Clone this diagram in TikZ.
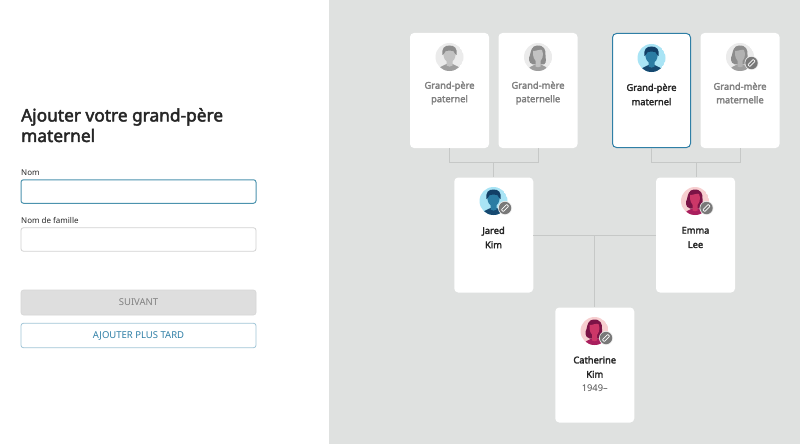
\documentclass[tikz,border=0pt]{standalone}
\usepackage{fontspec}
\setmainfont{Noto Sans}[BoldFont={Noto Sans}, BoldFeatures={FakeBold=2.6}]
\definecolor{panelgrey}{HTML}{DFE1E0}
\definecolor{linegrey}{HTML}{C6C8C7}
\definecolor{tealblue}{HTML}{2F7FA6}
\definecolor{inputblue}{HTML}{4C93AE}
\definecolor{textdark}{HTML}{262626}
\definecolor{textgrey}{HTML}{7F7F7F}
\definecolor{skyback}{HTML}{A9E4F5}
\definecolor{skyface}{HTML}{2B7CA3}
\definecolor{skyhair}{HTML}{123F66}
\definecolor{skybody}{HTML}{164970}
\definecolor{pinkback}{HTML}{F7CFD0}
\definecolor{pinkface}{HTML}{CC3768}
\definecolor{pinkhair}{HTML}{7B1346}
\definecolor{pinkbody}{HTML}{A91F5E}
\tikzset{
	card/.style={fill=white, rounded corners=4, minimum width=79, minimum height=115, inner sep=0},
	selcard/.style={card, draw=tealblue, line width=1},
	link/.style={draw=linegrey, line width=0.9},
	namedark/.style={align=center, text=textdark, font=\fontsize{9.3}{14.3}\selectfont\bfseries},
	namegrey/.style={align=center, text=textgrey, font=\fontsize{9.3}{13.5}\selectfont\bfseries},
	fieldbox/.style={fill=white, rounded corners=2.5, minimum width=235, minimum height=23.5, inner sep=0},
	fieldlabel/.style={anchor=west, inner sep=0, text=textdark, font=\fontsize{8}{10}\selectfont},
	pics/man/.style n args={4}{code={
		\begin{scope}
		\clip (0,0) circle (14);
		\fill[#1] (0,0) circle (14);
		\fill[#4] (-12,15) .. controls (-11,9) and (-6,9) .. (-3,7) -- (3,7) .. controls (6,9) and (11,9) .. (12,15) -- cycle;
		\fill[#2] (-3,8.5) -- (-3,2) -- (3,2) -- (3,8.5) .. controls (1,10) and (-1,10) .. (-3,8.5) -- cycle;
		\fill[#2] (-6.5,-8) .. controls (-6.5,2) and (-4,5) .. (0,5) .. controls (4,5) and (6.5,2) .. (6.5,-8) -- cycle;
		\fill[#3] (-7,-2) .. controls (-8,-9) and (-5,-11.5) .. (0,-11.5) .. controls (5,-11.5) and (8,-9) .. (7,-2) -- (5.8,-3) .. controls (5.5,-6) and (3,-6.5) .. (0,-6.5) .. controls (-3,-6.5) and (-5.5,-6) .. (-5.8,-3) -- cycle;
		\end{scope}
	}},
	pics/woman/.style n args={4}{code={
		\begin{scope}
		\clip (0,0) circle (14);
		\fill[#1] (0,0) circle (14);
		\fill[#3] (-1,-11.5) .. controls (6,-12) and (8,-7) .. (7.5,-2) .. controls (7.5,2) and (9,5) .. (6,7.5) -- (-5,7.5) .. controls (-10,6) and (-9.5,1) .. (-8,-2) .. controls (-7,-7) and (-6,-11) .. (-1,-11.5) -- cycle;
		\fill[#4] (-11,15) .. controls (-10,10) and (-6,9) .. (-3,7.5) -- (3,7.5) .. controls (6,9) and (10,10) .. (11,15) -- cycle;
		\fill[#2] (-2.5,9.5) -- (-2.5,3) -- (2.5,3) -- (2.5,9.5) .. controls (1,10.5) and (-1,10.5) .. (-2.5,9.5) -- cycle;
		\fill[#2] (-5,-6) .. controls (-1,-6) and (2,-8) .. (4,-7) .. controls (6,-3) and (5,4) .. (0,5) .. controls (-4,4) and (-5.5,-1) .. (-5,-6) -- cycle;
		\end{scope}
	}},
	pics/pencil/.style={code={
		\fill[white!85!gray] (0,0) circle (7);
		\fill[gray!95!black] (0,0) circle (6.2);
		\begin{scope}[rotate=45]
		\draw[white, line width=0.8, rounded corners=0.6] (-3.8,-1.3) rectangle (3.8,1.3);
		\end{scope}
	}}
}
\begin{document}
\begin{tikzpicture}[x=1pt, y=-1pt]
\useasboundingbox (0,0) rectangle (800,444);
\fill[white] (0,0) rectangle (329,444);
\fill[panelgrey] (329,0) rectangle (800,444);
% left panel
\node[anchor=north west, inner sep=0, align=left, text=textdark, font=\fontsize{17.3}{20.5}\selectfont\bfseries] (title) at (21,108) {Ajouter votre grand-père\\maternel};
\node[fieldlabel] (nomlabel) at (21,172.5) {Nom};
\node[fieldbox, draw=inputblue, line width=1] (nom) at (138.5,191.5) {};
\node[fieldlabel] (famillelabel) at (21,220.5) {Nom de famille};
\node[fieldbox, draw=black!18, line width=0.8] (famille) at (138.5,239.5) {};
\node[fieldbox, fill=black!13, draw=black!16, line width=0.6, minimum height=25, text=textgrey, font=\fontsize{9.5}{12}\selectfont] (suivant) at (138.5,302.5) {SUIVANT};
\node[fieldbox, draw=tealblue!45, line width=0.8, minimum height=24.5, text=tealblue, font=\fontsize{9.5}{12}\selectfont] (plustard) at (138.5,335.5) {AJOUTER PLUS TARD};
% connectors
\node[card] (gpp) at (449.5,90.5) {};
\node[card] (gmp) at (538,90.5) {};
\node[selcard, minimum width=78, minimum height=114] (gpm) at (651.5,90.5) {};
\node[card] (gmm) at (740,90.5) {};
\node[card] (jared) at (493.75,235) {};
\node[card] (emma) at (695.5,235) {};
\node[card] (catherine) at (594.75,365) {};
\coordinate (joinp) at (493.75,162.5);
\coordinate (joinm) at (696,162.5);
\coordinate (joinc) at (594.75,235);
\draw[link] (gpp.south) |- (joinp) -| (gmp.south);
\draw[link] (joinp) -- (jared.north);
\draw[link] (gpm.south) |- (joinm) -| (gmm.south);
\draw[link] (joinm) -- (joinm |- emma.north);
\draw[link] (jared.east |- joinc) -- (emma.west |- joinc);
\draw[link] (joinc) -- (catherine.north);
% avatars
\pic at (449.5,57) {man={black!8}{black!24}{black!45}{black!38}};
\pic at (538,57) {woman={black!8}{black!24}{black!45}{black!38}};
\pic at (651.5,58) {man={skyback}{skyface}{skyhair}{skybody}};
\pic at (740,57) {woman={black!8}{black!30}{black!45}{black!38}};
\pic at (751.5,63) {pencil};
\pic at (493.5,201) {man={skyback}{skyface}{skyhair}{skybody}};
\pic at (505,208) {pencil};
\pic at (695,201) {woman={pinkback}{pinkface}{pinkhair}{pinkbody}};
\pic at (706.5,208) {pencil};
\pic at (594.5,331) {woman={pinkback}{pinkface}{pinkhair}{pinkbody}};
\pic at (606,338) {pencil};
% names
\node[namegrey] (gpptext) at (449.5,93) {Grand-père\\paternel};
\node[namegrey] (gmptext) at (538,93) {Grand-mère\\paternelle};
\node[namedark] (gpmtext) at (651.5,94.5) {Grand-père\\maternel};
\node[namegrey] (gmmtext) at (740,93) {Grand-mère\\maternelle};
\node[namedark] (jaredtext) at (493.5,237.5) {Jared\\Kim};
\node[namedark] (emmatext) at (695.5,237.5) {Emma\\Lee};
\node[namedark] (catherinetext) at (594.75,367) {Catherine\\Kim};
\node[inner sep=0, text=textdark!80, font=\fontsize{9.3}{12}\selectfont] (catherineyear) at (594.75,388) {1949–};
\end{tikzpicture}
\end{document}
